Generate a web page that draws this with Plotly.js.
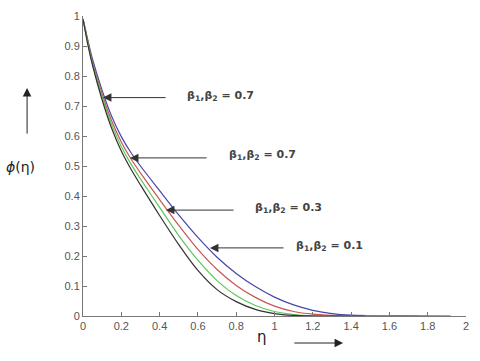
<!DOCTYPE html>
<html>
<head>
<meta charset="utf-8">
<script src="https://cdn.plot.ly/plotly-3.0.1.min.js"></script>
<style>
  html, body { margin: 0; padding: 0; background: #ffffff; }
  #chart { width: 480px; height: 361px; }
</style>
</head>
<body>
<div id="chart"></div>
<script>
// eta grid shared by the four profiles
const eta = [0, 0.025, 0.05, 0.1, 0.15, 0.2, 0.25, 0.3, 0.4, 0.5, 0.6, 0.7, 0.8, 0.9, 1.0, 1.1, 1.2, 1.3, 1.4];

// phi(eta)
const phiBlue  = [0.99, 0.92, 0.855, 0.752, 0.665, 0.598, 0.545, 0.50, 0.418, 0.337, 0.262, 0.196, 0.142, 0.098, 0.063, 0.037, 0.019, 0.008, 0.003];
const phiRed   = [0.99, 0.915, 0.845, 0.74, 0.65, 0.58, 0.524, 0.477, 0.388, 0.302, 0.222, 0.155, 0.102, 0.062, 0.033, 0.015, 0.006, 0.002, 0];
const phiGreen = [0.99, 0.91, 0.84, 0.73, 0.638, 0.565, 0.507, 0.457, 0.362, 0.268, 0.186, 0.118, 0.068, 0.035, 0.015, 0.005, 0.001, 0, 0];
const phiBlack = [0.99, 0.905, 0.835, 0.72, 0.625, 0.55, 0.49, 0.437, 0.335, 0.238, 0.152, 0.088, 0.048, 0.022, 0.008, 0.002, 0, 0, 0];

// where each curve stops along the axis
const endBlue = 1.92;
const endRed = 1.75;
const endGreen = 1.6;
const endBlack = 1.47;

// label values for the four arrows
const betaLabels = ['0.7', '0.7', '0.3', '0.1'];

const xTicks = [0, 0.2, 0.4, 0.6, 0.8, 1, 1.2, 1.4, 1.6, 1.8, 2];
const yTicks = [0, 0.1, 0.2, 0.3, 0.4, 0.5, 0.6, 0.7, 0.8, 0.9, 1];

function curve(vals, end, color) {
    return {
        x: eta.concat([end]),
        y: vals.concat([0]),
        type: 'scatter',
        mode: 'lines',
        line: { color: color, width: 1.2, shape: 'spline', smoothing: 0.8 },
        hoverinfo: 'skip'
    };
}

const traces = [
    curve(phiBlue, endBlue, 'rgb(70, 70, 170)'),
    curve(phiRed, endRed, 'rgb(200, 85, 85)'),
    curve(phiGreen, endGreen, 'rgb(90, 200, 90)'),
    curve(phiBlack, endBlack, 'rgb(50, 50, 50)')
];

function betaText(v) {
    return '<b>β<sub>1</sub>,β<sub>2</sub> = ' + v + '</b>';
}

// arrow: tip on the curve, tail to the right
function arrow(tx, ty, ax, ay) {
    return {
        x: tx, y: ty, ax: ax, ay: ay,
        xref: 'x', yref: 'y', axref: 'x', ayref: 'y',
        text: '', showarrow: true,
        arrowhead: 2, arrowsize: 1.7, arrowwidth: 1,
        arrowcolor: '#333'
    };
}

function label(x, y, txt) {
    return {
        x: x, y: y, xref: 'x', yref: 'y',
        text: txt, showarrow: false,
        xanchor: 'left', yanchor: 'middle',
        font: { family: 'DejaVu Sans, sans-serif', size: 11, color: '#444' }
    };
}

const annotations = [
    arrow(0.104, 0.728, 0.439, 0.728),
    label(0.53, 0.735, betaText(betaLabels[0])),
    arrow(0.245, 0.527, 0.653, 0.527),
    label(0.75, 0.537, betaText(betaLabels[1])),
    arrow(0.433, 0.353, 0.794, 0.353),
    label(0.89, 0.36, betaText(betaLabels[2])),
    arrow(0.663, 0.227, 1.055, 0.227),
    label(1.10, 0.235, betaText(betaLabels[3])),
    // y-axis title with arrow
    {
        x: -0.146, y: 0.76, ax: -0.146, ay: 0.603,
        xref: 'paper', yref: 'paper', axref: 'paper', ayref: 'paper',
        text: '', showarrow: true, arrowhead: 2, arrowsize: 1.7, arrowwidth: 1, arrowcolor: '#222'
    },
    {
        x: -0.207, y: 0.497, xref: 'paper', yref: 'paper', showarrow: false,
        xanchor: 'left',
        text: '<i>ϕ</i>(η)',
        font: { family: 'DejaVu Sans, sans-serif', size: 14, color: '#222' }
    },
    // x-axis title with arrow
    {
        x: 0.679, y: -0.09, ax: 0.548, ay: -0.09,
        xref: 'paper', yref: 'paper', axref: 'paper', ayref: 'paper',
        text: '', showarrow: true, arrowhead: 2, arrowsize: 1.7, arrowwidth: 1, arrowcolor: '#222'
    },
    {
        x: 0.467, y: -0.105, xref: 'paper', yref: 'paper', showarrow: false,
        text: 'η',
        font: { family: 'DejaVu Sans, sans-serif', size: 15, color: '#222' }
    }
];

const axisCommon = {
    showgrid: false,
    zeroline: false,
    showline: true,
    linecolor: '#777',
    linewidth: 1,
    ticks: 'inside',
    ticklen: 4,
    tickcolor: '#777',
    tickfont: { family: 'Liberation Sans, Arial, sans-serif', size: 11, color: '#555' }
};

const layout = {
    xaxis: Object.assign({}, axisCommon, {
        range: [0, 2],
        tickvals: xTicks,
        ticktext: xTicks.map(String)
    }),
    yaxis: Object.assign({}, axisCommon, {
        range: [0, 1],
        tickvals: yTicks,
        ticktext: yTicks.map(String)
    }),
    annotations: annotations,
    showlegend: false,
    plot_bgcolor: '#ffffff',
    paper_bgcolor: '#ffffff',
    margin: { t: 16, b: 45, l: 83, r: 14 },
    width: 480,
    height: 361
};

Plotly.newPlot('chart', traces, layout, { displayModeBar: false, staticPlot: true });
</script>
</body>
</html>
